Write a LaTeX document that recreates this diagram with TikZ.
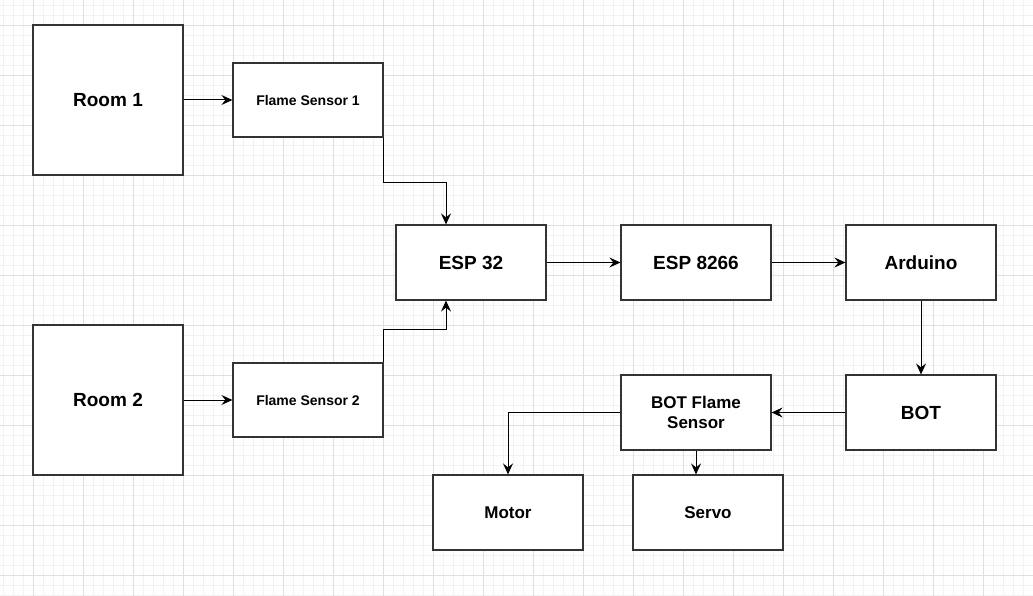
\documentclass[tikz,border=0pt]{standalone}
\usepackage{fontspec}
\setmainfont{Liberation Sans}
\usetikzlibrary{arrows.meta}

\tikzset{
  gridminor/.style={line width=0.6pt, draw=black!5},
  gridmajor/.style={line width=0.8pt, draw=black!12},
  block/.style={draw=black!80, line width=1.2pt, fill=white, rectangle,
    inner sep=0pt, minimum width=150pt, minimum height=75pt, align=center,
    font=\bfseries\fontsize{19}{21}\selectfont},
  link/.style={line width=1pt, -{Stealth[length=11pt,width=10pt,inset=4pt]}}
}

\begin{document}
\begin{tikzpicture}[x=1pt,y=-1pt]
\useasboundingbox (0,0) rectangle (1033,596);
\fill[white] (0,0) rectangle (1033,596);

% grid
\foreach \x in {3,13,...,1033} \draw[gridminor] (\x,0) -- (\x,596);
\foreach \y in {5,15,...,595} \draw[gridminor] (0,\y) -- (1033,\y);
\foreach \x in {33,83,...,1033} \draw[gridmajor] (\x,0) -- (\x,596);
\foreach \y in {25,75,...,575} \draw[gridmajor] (0,\y) -- (1033,\y);

% blocks
\node[block, minimum height=150pt] (room1) at (108,100) {Room 1};
\node[block, minimum height=150pt] (room2) at (108,400) {Room 2};
\node[block, minimum height=74pt, font=\bfseries\fontsize{14}{16}\selectfont] (fs1) at (308,100) {Flame Sensor 1};
\node[block, minimum height=74pt, font=\bfseries\fontsize{14}{16}\selectfont] (fs2) at (308,400) {Flame Sensor 2};
\node[block] (esp32) at (471,262.5) {ESP 32};
\node[block] (esp8266) at (696,262.5) {ESP 8266};
\node[block] (arduino) at (921,262.5) {Arduino};
\node[block] (bot) at (921,412.5) {BOT};
\node[block, font=\bfseries\fontsize{17}{20}\selectfont] (botfs) at (696,412.5) {BOT Flame\\Sensor};
\node[block, font=\bfseries\fontsize{17}{19}\selectfont] (motor) at (508,512.5) {Motor};
\node[block, font=\bfseries\fontsize{17}{19}\selectfont] (servo) at (708,512.5) {Servo};

% connectors
\draw[link] (room1) -- (fs1);
\draw[link] (room2) -- (fs2);
\draw[link] (fs1.south east) -- ++(0,45) -| ([xshift=-25pt]esp32.north);
\draw[link] (fs2.north east) -- ++(0,-33) -| ([xshift=-25pt]esp32.south);
\draw[link] (esp32) -- (esp8266);
\draw[link] (esp8266) -- (arduino);
\draw[link] (arduino) -- (bot);
\draw[link] (bot) -- (botfs);
\draw[link] (botfs.west) -| (motor.north);
\draw[link] (botfs.south) -- (botfs.south |- servo.north);
\end{tikzpicture}
\end{document}
